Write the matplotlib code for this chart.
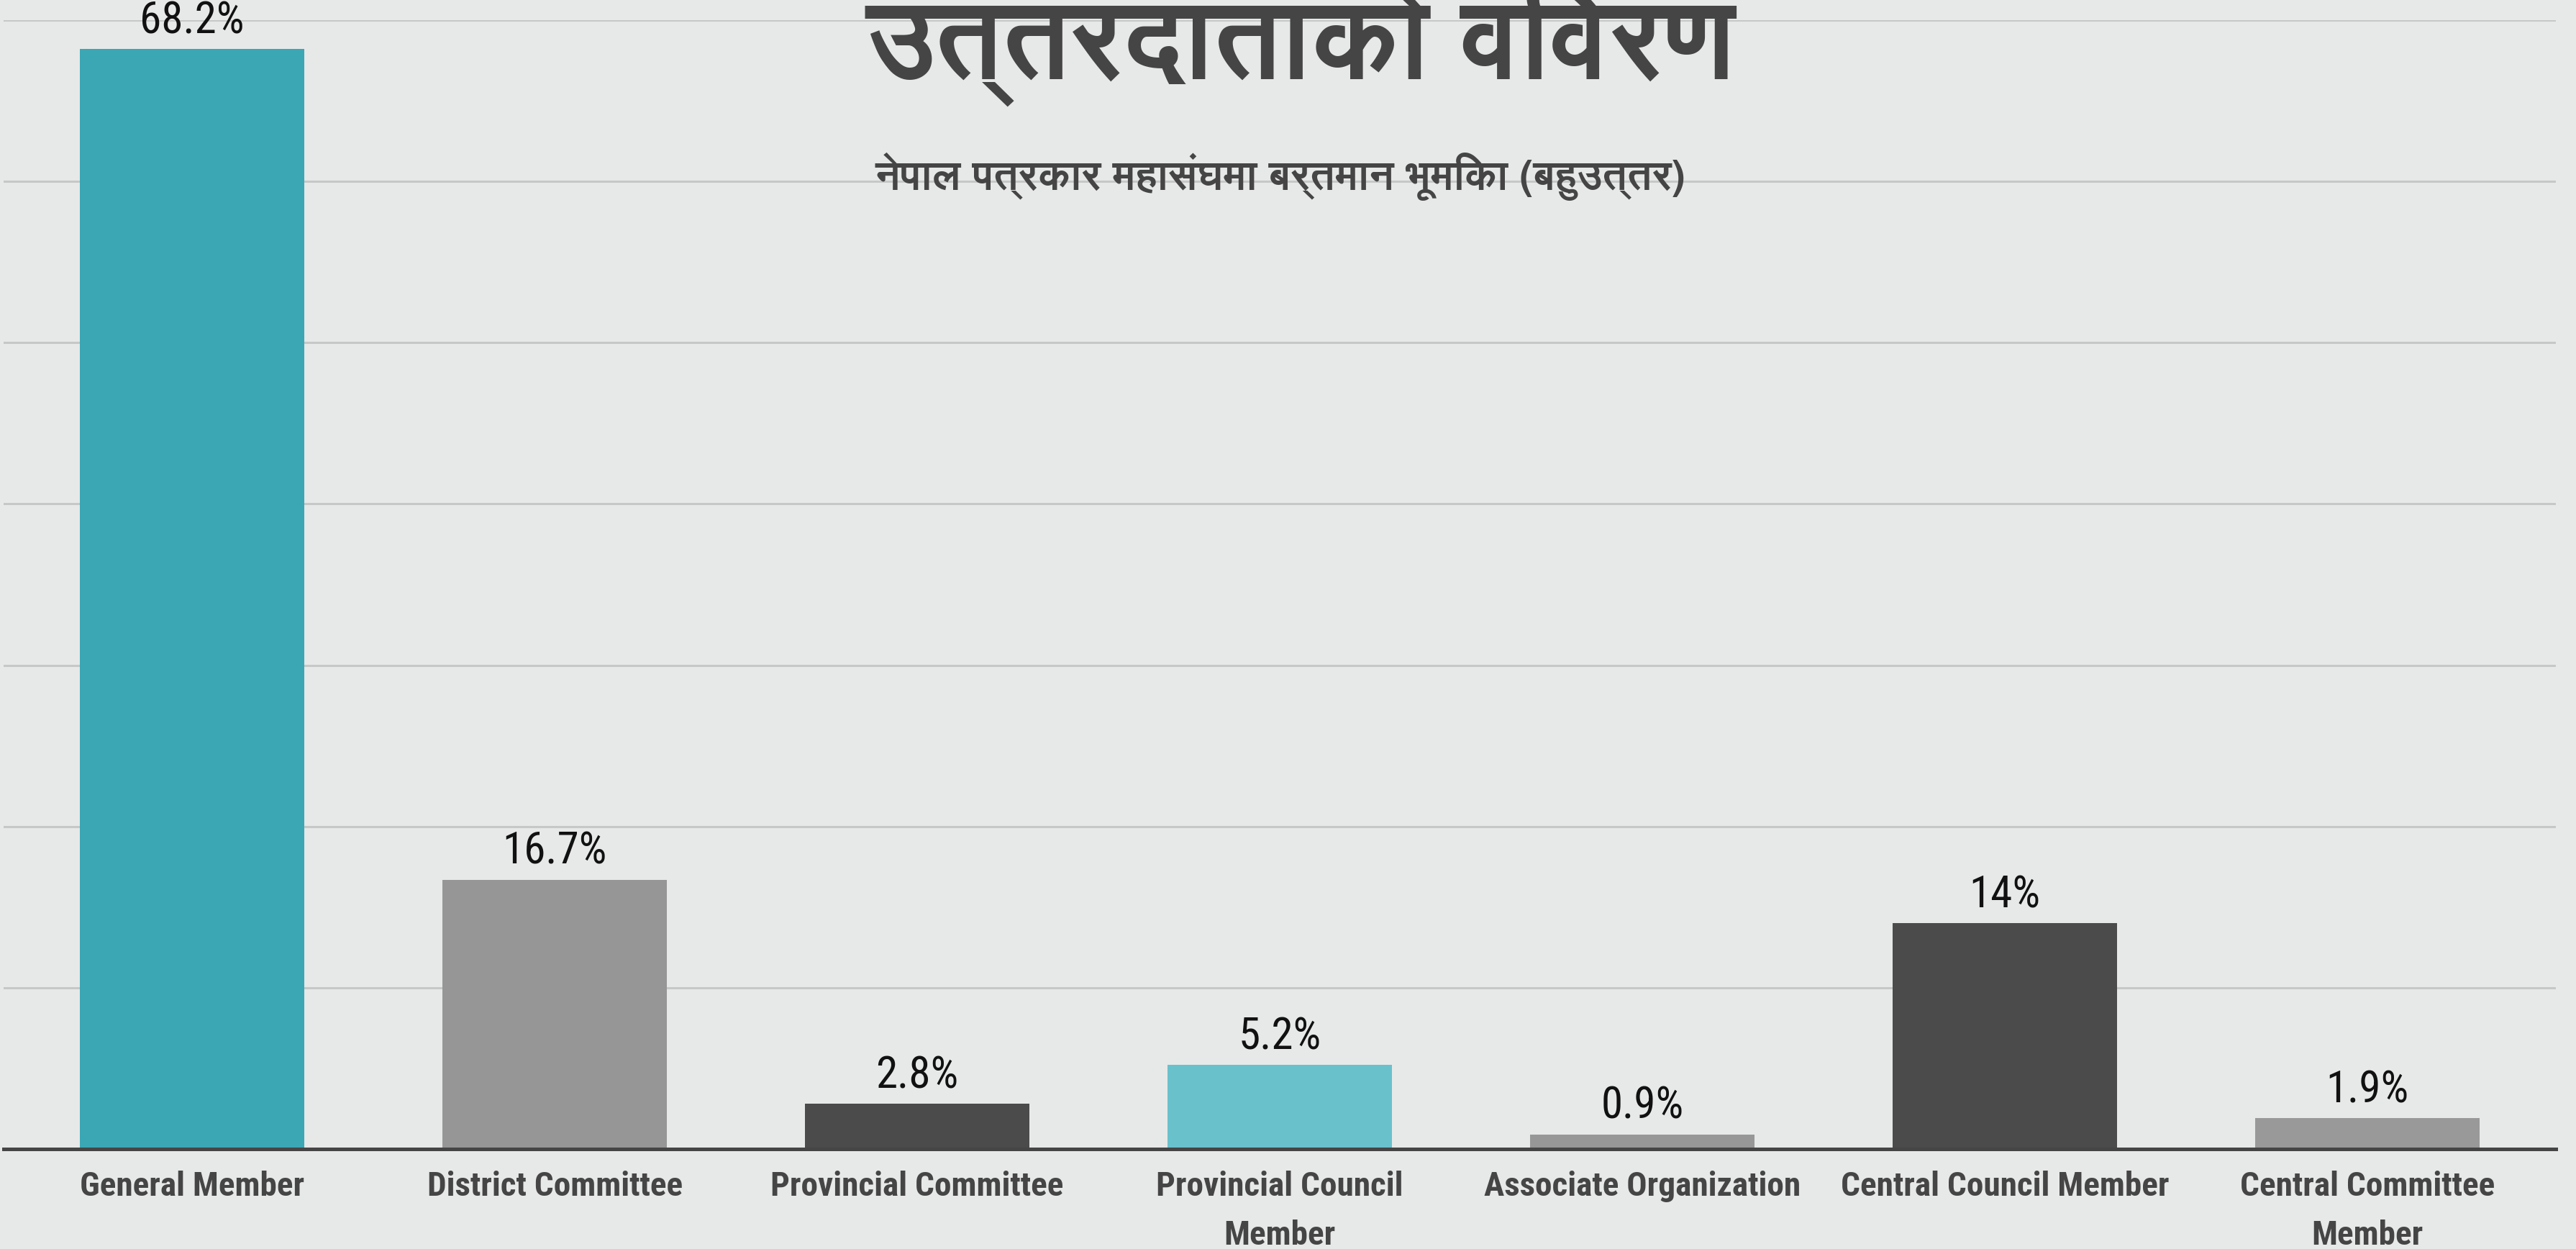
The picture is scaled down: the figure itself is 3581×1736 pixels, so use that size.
import matplotlib
matplotlib.use("Agg")
import matplotlib.pyplot as plt
from matplotlib import font_manager
from matplotlib.ft2font import FT2Font

# data
categories = ["General Member", "District Committee", "Provincial Committee",
              "Provincial Council\nMember", "Associate Organization",
              "Central Council Member", "Central Committee\nMember"]
values = [68.2, 16.7, 2.8, 5.2, 0.9, 14, 1.9]
value_labels = ["68.2%", "16.7%", "2.8%", "5.2%", "0.9%", "14%", "1.9%"]
bar_colors = ["#3BA7B5", "#969696", "#4B4B4B", "#69C1CC", "#979797", "#4B4B4B", "#999999"]
title = "उत्तरदाताको विवरण"
subtitle = "नेपाल पत्रकार महासंघमा बर्तमान भूमिका (बहुउत्तर)"

BG = "#E7E9E8"
DARK = "#454545"


def first_available(names, fallback="DejaVu Sans"):
    have = {f.name for f in font_manager.fontManager.ttflist}
    for n in names:
        if n in have:
            return n
    return fallback


def devanagari_font(bold=True):
    # look for any installed font that has Devanagari glyphs
    hits = []
    for f in font_manager.fontManager.ttflist:
        try:
            cmap = FT2Font(f.fname).get_charmap()
        except Exception:
            continue
        if 0x0915 in cmap and 0x0947 in cmap:
            hits.append(f)
    if not hits:
        return None
    hits.sort(key=lambda f: (0 if (f.weight in ("bold", 700, "semibold", 600)) == bold else 1))
    return hits[0].fname


narrow = first_available(["Liberation Sans Narrow", "DejaVu Sans Condensed", "Roboto Condensed"])
deva = devanagari_font()

fig = plt.figure(figsize=(35.81, 17.36), dpi=100, facecolor=BG)
ax = fig.add_axes([0.0014, 0.0801, 0.9908, 0.9038], facecolor=BG)

x = range(len(categories))
ax.bar(x, values, width=0.62, color=bar_colors, zorder=3)

for xi, v, lab in zip(x, values, value_labels):
    ax.annotate(lab, (xi, v), xytext=(0, 10), textcoords="offset pixels",
                ha="center", va="bottom", fontsize=44, color="#111111",
                family=narrow)

ax.set_ylim(0, 70)
ax.set_xlim(-0.52, 6.52)
ax.set_yticks(range(0, 71, 10))
ax.yaxis.grid(True, color="#C6C8C7", linewidth=2.2, zorder=0)
ax.tick_params(axis="y", left=False, labelleft=False)
ax.tick_params(axis="x", bottom=False, pad=18)
ax.set_xticks(list(x))
ax.set_xticklabels(categories, fontsize=34, fontweight="bold", color=DARK,
                   family=narrow, linespacing=1.68, va="top")
for s in ["top", "right", "left"]:
    ax.spines[s].set_visible(False)
ax.spines["bottom"].set_color(DARK)
ax.spines["bottom"].set_linewidth(3.6)
ax.spines["bottom"].set_zorder(4)

if deva:
    tprops = font_manager.FontProperties(fname=deva, size=112)
    sprops = font_manager.FontProperties(fname=deva, size=41)
else:
    tprops = font_manager.FontProperties(family="DejaVu Sans", weight="bold", size=112)
    sprops = font_manager.FontProperties(family="DejaVu Sans", weight="bold", size=41)

fig.text(0.505, 0.938, title, ha="center", va="baseline", color=DARK,
         fontproperties=tprops, zorder=5)
fig.text(0.497, 0.8485, subtitle, ha="center", va="baseline", color=DARK,
         fontproperties=sprops, zorder=5)

fig.savefig("out.png", dpi=100, facecolor=BG)
